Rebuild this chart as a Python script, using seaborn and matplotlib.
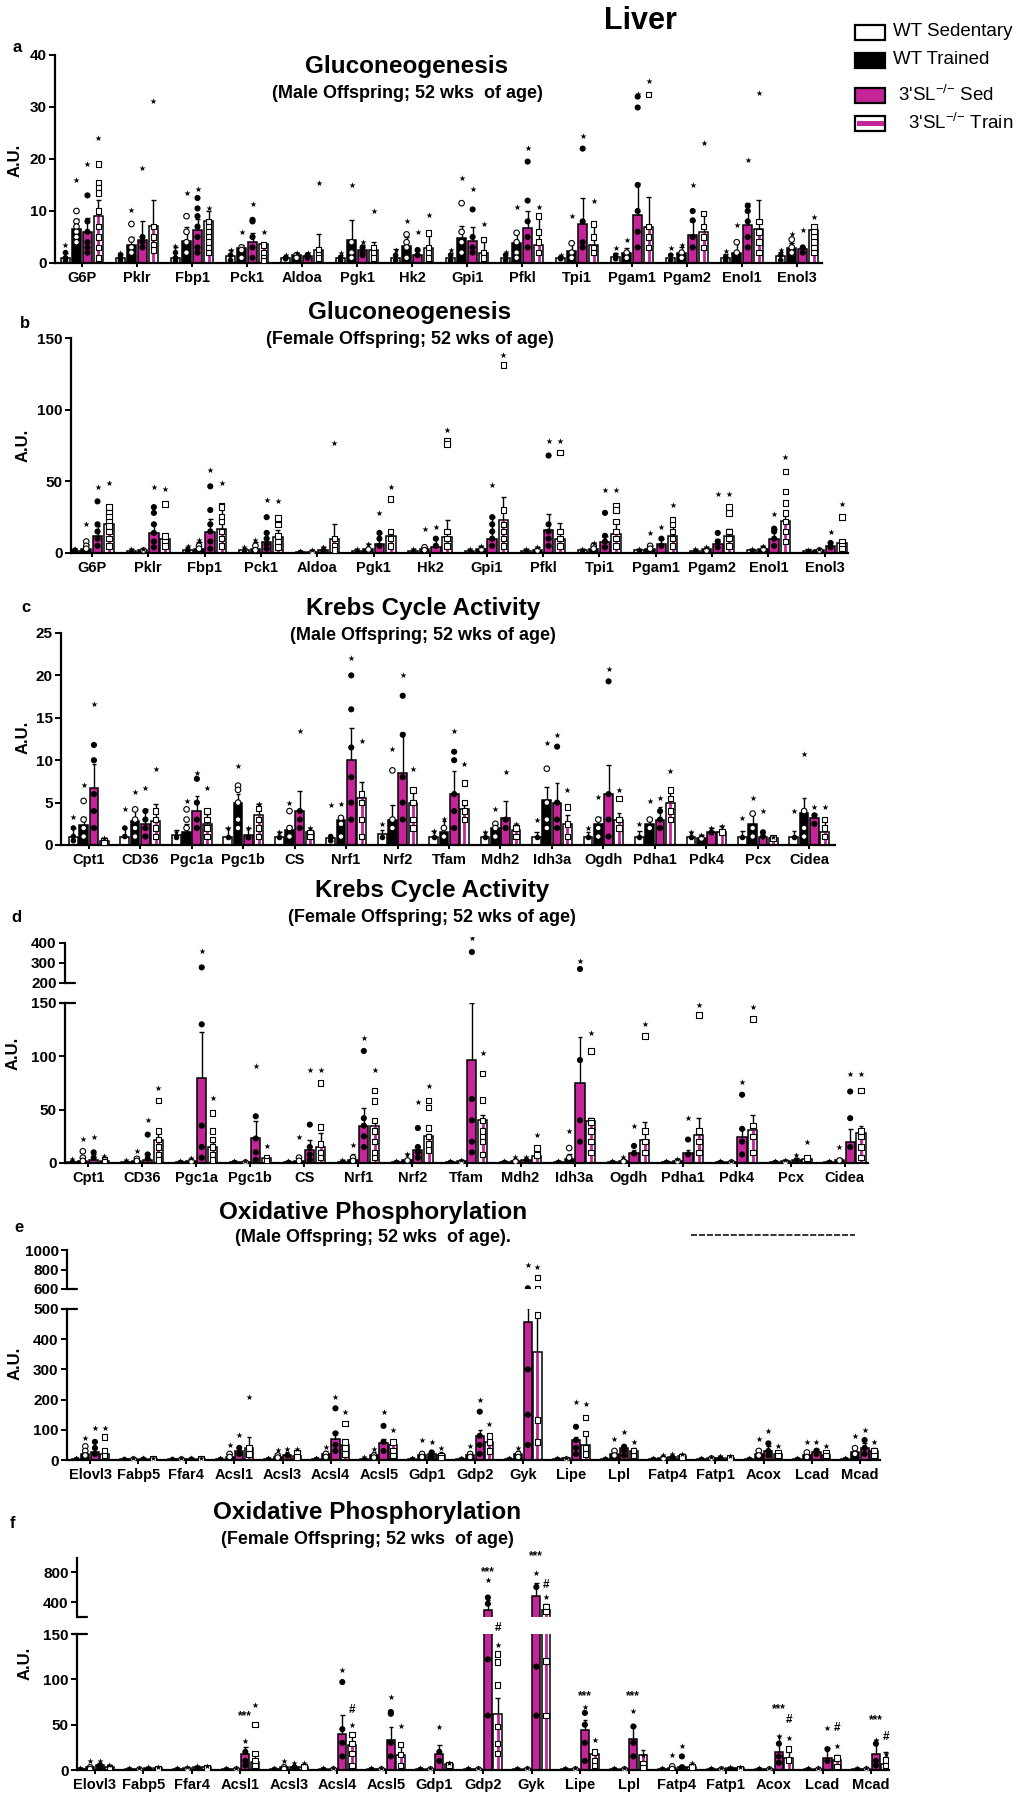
import numpy as np
import pandas as pd
import matplotlib
matplotlib.use("Agg")
import matplotlib.pyplot as plt
import matplotlib.transforms as mtransforms
from matplotlib.patches import Rectangle
from matplotlib.lines import Line2D
import seaborn as sns

# ---------------------------------------------------------------- data
GROUPS = ["WT Sedentary", "WT Trained", "3'SL Sed", "3'SL Train"]

# ---- panel a : Gluconeogenesis, male
a_genes = ["G6P", "Pklr", "Fbp1", "Pck1", "Aldoa", "Pgk1", "Hk2", "Gpi1", "Pfkl", "Tpi1",
           "Pgam1", "Pgam2", "Enol1", "Enol3"]
a_wts_mean = [1.0, 1.0, 1.0, 1.3, 1.0, 1.0, 1.0, 1.0, 1.0, 1.0, 1.2, 1.0, 1.0, 1.3]
a_wts_err = [2.0, 1.8, 3.0, 2.5, 1.3, 1.5, 2.7, 2.0, 2.0, 1.3, 2.0, 1.8, 1.8, 2.2]
a_wts_pts = [[3.5, 2, 1, 0.5], [2, 1.5, 1, 0.5], [3.3, 2, 1, 0.5], [2.5, 1.5, 0.5], [1.5, 1, 0.8],
             [2, 1, 0.5], [2.5, 1.5, 0.5], [2.5, 1.5, 0.5], [2.2, 1.5, 0.5], [1.5, 1, 0.8],
             [2.8, 1.5, 0.8], [2.8, 1.5, 0.5], [2.4, 1.2, 0.5], [2.5, 1.5, 0.5]]
a_wtt_mean = [6.5, 3.5, 4.3, 2.8, 1.5, 4.5, 3.2, 4.8, 3.8, 2.3, 2.0, 2.0, 2.0, 2.8]
a_wtt_err = [8.5, 5.0, 7.0, 3.5, 2.0, 8.3, 5.0, 7.2, 6.0, 4.0, 2.8, 3.0, 4.2, 3.8]
a_wtt_pts = [[16, 10, 8, 7, 6, 5, 4], [10.2, 7.5, 4.5, 3, 2], [13.5, 9, 6, 4, 2], [6, 3, 2.5, 1],
             [2, 1.5, 1], [15, 4, 2, 1], [8, 5.5, 4, 3, 1], [16.3, 11.5, 6, 4, 2],
             [10.7, 5.8, 4, 2, 1], [9, 3.8, 2, 1], [4.4, 2, 1], [3.4, 2, 1], [7.4, 4, 2],
             [5.5, 4.5, 3, 2]]
a_kos_mean = [6.0, 4.5, 6.3, 4.0, 1.3, 2.5, 1.5, 4.3, 6.7, 7.5, 9.2, 5.3, 7.4, 2.6]
a_kos_err = [8.7, 8.0, 8.5, 5.8, 2.0, 3.5, 2.5, 7.0, 10.0, 12.5, 15.3, 8.0, 11.5, 3.0]
a_kos_pts = [[19, 13, 8, 6, 4, 3, 2], [18.2, 5, 4, 3], [14.3, 12.5, 10.5, 9, 7, 5, 3, 2],
             [11.3, 8.3, 8, 5, 3, 1], [2, 1.5, 1], [4, 3, 2, 1.5], [6, 2.5, 1.5],
             [14.3, 10.3, 5, 3, 2], [22.2, 19.5, 12, 8, 5, 3], [24.5, 22, 8, 4, 3],
             [32.5, 32, 29.9, 15, 10, 6, 3], [15, 10, 8.2, 5, 3], [19.9, 11, 10, 8, 5, 3],
             [6.3, 3, 2]]
a_kot_mean = [9.0, 7.2, 8.0, 3.7, 2.5, 2.5, 2.8, 2.0, 3.5, 3.5, 7.0, 6.0, 6.6, 6.4]
a_kot_err = [12.2, 12.2, 10.0, 3.7, 5.5, 4.0, 5.5, 4.0, 8.8, 7.5, 12.7, 9.7, 12.2, 6.5]
a_kot_pts = [[24, 19, 15.5, 14.5, 13.5, 10, 7, 5, 3, 1], [31.2, 7, 5, 3.5, 2.5],
             [10.5, 8, 7, 6, 5, 4, 3, 2], [6, 3.5, 2, 1, 0.5], [15.4, 2.5, 1.5, 1],
             [10, 3, 2, 1], [9.2, 5.8, 3, 2, 1], [7.5, 4.5, 2, 1], [10.7, 9, 6, 4, 2],
             [12, 7.5, 5, 3, 2], [35, 32.4, 7, 5, 3], [23, 9.5, 7, 5, 3], [32.7, 8, 6, 4, 2],
             [8.8, 7, 6, 5, 4, 3, 2]]

# ---- panel b : Gluconeogenesis, female
b_genes = a_genes
b_wts_mean = [1.5, 1.5, 2, 2, 1, 1.5, 1.5, 1.5, 1.5, 2, 2, 1.5, 2, 1.5]
b_wts_err = [3, 2.5, 4, 3.5, 1.5, 2.5, 2.5, 2.5, 2.5, 3, 3, 2.5, 3, 2.5]
b_wts_pts = [[3, 2, 1], [3, 1], [5, 2, 1], [4, 1], [1.5, 1], [3, 1], [3, 1], [3, 1], [3, 1],
             [3, 1], [3, 1], [3, 1], [3, 1], [2, 1]]
b_wtt_mean = [3, 2, 3, 3, 1, 3, 3, 3, 2, 3, 3, 3, 3, 2]
b_wtt_err = [6, 3, 8, 8, 2, 6, 4, 5, 4, 7, 5, 4, 5, 3]
b_wtt_pts = [[20, 8, 5, 3], [3, 2], [9, 5, 3], [9, 5, 2], [2, 1], [6, 3], [17, 4, 2], [5, 3],
             [4, 2], [7, 5, 3], [14, 5, 3], [4, 2], [5, 3], [3, 2]]
b_kos_mean = [12, 14, 15, 8, 2, 6, 4, 10, 16, 8, 6, 6, 10, 5]
b_kos_err = [19, 20, 24, 15, 4, 14, 10, 25, 27, 12, 10, 10, 17, 8]
b_kos_pts = [[46, 36, 20, 15, 10, 5], [46, 32, 28, 20, 14, 8, 4], [58, 46.5, 30, 20, 15, 8, 3],
             [37, 25, 14, 10, 6, 3], [4, 2], [28, 14, 10, 5], [18, 10, 5],
             [47.7, 25, 20, 15, 10, 5], [78, 68, 20, 15, 10, 5], [44, 28, 12, 8, 4],
             [18, 10, 5], [41, 14, 8, 4], [27, 17, 15, 10, 5], [14.6, 7, 4]]
b_kot_mean = [20, 10, 17, 11, 10, 12, 11, 23, 10, 13, 12, 12, 22, 7]
b_kot_err = [30, 13, 32, 16, 20, 15, 23, 39, 21, 22, 23, 17, 29, 9]
b_kot_pts = [[49, 32, 28, 25, 22, 19, 15, 10, 5], [45, 34, 12, 8, 5],
             [49, 33, 32, 25, 22, 15, 10, 5], [36, 24.4, 20, 12, 8, 4], [76.7, 10, 5, 2],
             [46, 37.7, 15, 10, 5], [86, 78, 76, 15, 10, 5], [138, 131, 30, 20, 15, 10, 5],
             [78, 70, 15, 10, 5], [44, 33, 30, 22, 15, 10, 5], [33.7, 23, 20, 15, 10, 5],
             [41, 32, 28, 15, 10, 5], [67, 57, 43, 35, 28, 22, 15, 8], [34, 25, 8, 5, 3]]

# ---- panel c : Krebs cycle, male
c_genes = ["Cpt1", "CD36", "Pgc1a", "Pgc1b", "CS", "Nrf1", "Nrf2", "Tfam", "Mdh2", "Idh3a",
           "Ogdh", "Pdha1", "Pdk4", "Pcx", "Cidea"]
c_wts_mean = [1, 1, 1.2, 1, 1, 0.8, 1.3, 1, 1, 1, 1, 1, 1, 1, 1]
c_wts_err = [2, 2, 1.8, 2, 1.5, 1, 1.8, 1.7, 1.5, 1.5, 1.5, 1.6, 1.5, 1.7, 1.6]
c_wts_pts = [[3.3, 2, 1, 0.5], [4.2, 2, 1], [1.5, 1], [2, 1], [1.5, 1], [4.7, 1, 0.5], [2.5, 1],
             [1.7, 1], [1.5, 1], [2.9, 1], [2, 1], [2.5, 1], [1.5, 1], [3.2, 1], [4, 1]]
c_wtt_mean = [2.3, 2.8, 1.5, 5, 1.8, 3, 3, 1.5, 2, 5.3, 2.5, 2.5, 0.8, 2.5, 3.8]
c_wtt_err = [3.3, 4.2, 2.5, 6, 2.2, 3.3, 4.7, 2.8, 2.5, 6.8, 3.3, 3.2, 1.2, 3.7, 5.6]
c_wtt_pts = [[7.1, 5.2, 3, 2, 1], [6.2, 4.2, 3, 2, 1], [5.2, 4.2, 3, 2], [9.3, 7, 6.5, 5, 3, 2],
             [5, 4, 2, 1], [4.8, 3.2, 2.5, 1], [11.3, 8.8, 3, 2], [3.1, 2, 1], [4.3, 2.5, 2, 1],
             [12, 9, 5, 3, 2], [5.7, 3, 2, 1], [5.2, 3, 2], [1.2, 0.8], [5.6, 3.7, 2, 1],
             [10.7, 4, 2, 1]]
c_kos_mean = [6.7, 2.5, 4, 1.2, 4, 10, 8.5, 6, 3.2, 5, 6, 3, 1.5, 1, 3.2]
c_kos_err = [9.5, 4.2, 5.8, 2, 6.4, 13.8, 13.2, 8.7, 5.2, 7.3, 9.4, 4.5, 2, 1.6, 3.6]
c_kos_pts = [[16.6, 11.8, 10, 6, 4, 2], [6.7, 4, 3, 2, 1], [8.5, 7.8, 5, 3, 2], [2, 1],
             [13.5, 4, 3, 2], [22, 20, 16, 11.5, 8, 5, 3], [20, 17.6, 13, 8, 5, 3],
             [13.5, 11, 10, 6, 4, 2], [8.6, 3, 2], [13, 11.6, 5, 3, 2], [20.8, 19.3, 6, 3, 1],
             [5.5, 4, 3, 2], [2, 1.5], [4, 1.5, 1], [4.5, 3.5, 2.5]]
c_kot_mean = [0.5, 2.8, 2.5, 3.5, 1.5, 5.5, 5, 4.2, 1.8, 2.5, 3, 5, 1.5, 0.8, 1.5]
c_kot_err = [0.8, 4.8, 3.6, 4.8, 2, 7.4, 6.5, 4.7, 2.5, 3.5, 3.8, 6.5, 2.2, 1, 2.8]
c_kot_pts = [[0.8, 0.5, 0.3], [9, 4, 3, 2, 1], [6.7, 4, 3, 2, 1], [4.8, 4.3, 3, 2, 1],
             [2, 1.5, 1], [12.3, 6, 5, 3, 1], [9, 6.5, 5, 3, 2], [9.5, 7.3, 5, 4, 3],
             [2.5, 2, 1], [6.5, 4.5, 2.5, 1], [6.5, 5.5, 3, 2], [8.7, 6.5, 5.5, 4, 3],
             [2.2, 1.5], [1, 0.8], [4.5, 3, 2, 1]]

# ---- panel d : Krebs cycle, female
d_genes = c_genes
d_wts_mean = [1, 1, 1, 1, 1, 1, 1, 1, 1, 1, 1, 1, 1, 1, 1]
d_wts_err = [3, 2, 2, 1.5, 2, 3, 2, 2, 2, 2, 2, 2, 2, 2, 2]
d_wts_pts = [[4, 1], [3, 1], [2, 1], [1.5, 1], [2, 1], [3, 1], [2, 1], [2, 1], [2, 1], [2, 1],
             [2, 1], [2, 1], [2, 1], [2, 1], [2, 1]]
d_wtt_mean = [2, 2, 2, 1, 2, 3, 3, 1.5, 2, 4, 2, 2, 1, 1.5, 3]
d_wtt_err = [5, 6, 4, 2, 3, 8, 8, 3, 4, 8, 4, 4, 2, 3, 5]
d_wtt_pts = [[22.5, 11, 5, 2], [11, 4, 2], [5, 2], [2, 1], [24, 5, 2], [16.6, 5, 2], [8, 3],
             [3, 1], [6, 2], [30, 14, 5], [6, 2], [4, 2], [2, 1], [3, 1], [15, 3]]
d_kos_mean = [3, 3, 80, 23, 12, 35, 12, 97, 3, 75, 9, 9, 24, 3, 20]
d_kos_err = [8, 8, 123, 39, 22, 51.6, 15, 150, 5, 118, 12, 12, 32, 5, 32]
d_kos_pts = [[24.4, 10, 5], [40.6, 26.6, 8, 4], [358, 278, 130, 35, 15, 5],
             [90.6, 43.8, 23, 10, 3], [87, 36, 15, 8, 3], [117, 105, 42, 35, 25, 15],
             [57, 32.8, 15, 10, 5], [425, 355, 60, 40, 20, 10], [6, 3],
             [310, 270, 96.5, 40, 20], [35, 16, 9], [42, 22, 8], [76, 64, 32, 20, 8], [7.5, 3],
             [83, 67, 42, 15]]
d_kot_mean = [2, 22, 15, 5, 15, 35, 25, 40, 7, 39, 21.5, 26, 31, 4, 28]
d_kot_err = [5, 29.7, 20, 5, 28, 38, 27, 45, 10, 42, 38, 42, 45, 5, 35]
d_kot_pts = [[7, 3, 1], [70, 58.8, 30, 22, 15, 8, 3], [61, 47, 30, 22, 15, 8, 3], [15.6, 5, 2],
             [87, 75, 34, 18, 10, 5], [87, 68, 58, 40, 30, 20, 10, 5],
             [72, 58.7, 52, 33, 25, 18, 12], [103, 84, 59, 40, 30, 25, 20, 8], [26, 14, 7.5],
             [122, 105, 40, 38, 30, 20, 10], [130, 119, 30, 20, 10], [148, 139, 30, 20, 10],
             [146, 135, 35, 25, 10], [20, 5], [83, 68, 30, 25, 15, 5]]

# ---- panel e : Oxidative phosphorylation, male
e_genes = ["Elovl3", "Fabp5", "Ffar4", "Acsl1", "Acsl3", "Acsl4", "Acsl5", "Gdp1", "Gdp2", "Gyk",
           "Lipe", "Lpl", "Fatp4", "Fatp1", "Acox", "Lcad", "Mcad"]
e_wts_mean = [2, 2, 2, 2, 2, 3, 3, 2, 2, 3, 3, 3, 2, 2, 3, 3, 3]
e_wts_err = [4, 3, 3, 4, 4, 5, 5, 4, 4, 5, 5, 5, 4, 4, 5, 5, 5]
e_wts_pts = [[5, 2], [4, 2], [4, 2], [5, 2], [5, 2], [8, 3], [10, 3], [6, 2], [5, 2], [6, 3],
             [6, 3], [6, 3], [5, 2], [5, 2], [6, 3], [6, 3], [6, 3]]
e_wtt_mean = [20, 3, 3, 10, 10, 20, 15, 15, 15, 20, 5, 20, 8, 5, 20, 15, 25]
e_wtt_err = [30, 5, 5, 20, 20, 30, 25, 25, 25, 30, 8, 30, 12, 8, 30, 25, 35]
e_wtt_pts = [[72, 45, 30, 15], [6, 3], [6, 3], [50, 20, 10], [33, 15, 8], [44, 20, 10],
             [35, 15, 8], [66, 20, 10], [45, 20, 10], [39, 20, 10], [8, 4], [68, 30, 15],
             [15, 8], [10, 5], [68, 30, 15], [61, 25, 10], [79, 39, 20]]
e_kos_mean = [25, 3, 3, 30, 15, 70, 55, 20, 80, 458, 66, 40, 10, 8, 30, 25, 40]
e_kos_err = [35, 5, 5, 45, 25, 94, 70, 30, 100, 502, 77, 50, 15, 12, 45, 35, 55]
e_kos_pts = [[105, 60, 40, 20], [6, 3], [6, 3], [83, 40, 20], [38, 15],
             [210, 171, 88, 50, 30], [158, 113, 60, 30], [61, 25, 10], [199, 160, 80, 50, 20],
             [846, 607, 300, 150, 50], [193, 110, 66, 40, 20], [94, 44, 30, 15], [20, 10],
             [12, 6], [96, 55, 30, 15], [61, 31, 20], [99, 66, 40, 20]]
e_kot_mean = [20, 3, 3, 40, 12, 50, 50, 15, 60, 359, 50, 30, 12, 8, 20, 15, 30]
e_kot_err = [25, 5, 5, 77, 20, 60, 60, 25, 80, 480, 88, 40, 18, 12, 30, 25, 40]
e_kot_pts = [[105, 77, 30, 15], [6, 3], [6, 3], [210, 40, 20], [38, 25, 10],
             [158, 121, 60, 40, 20], [99, 60, 30, 15], [40, 15, 8], [119, 80, 60, 30],
             [829, 720, 607, 480, 132, 60], [185, 140, 88, 40, 20], [61, 30, 15], [20, 10],
             [12, 6], [46, 25, 15], [45, 25, 15], [61, 30, 15]]

# ---- panel f : Oxidative phosphorylation, female
f_genes = e_genes
f_wts_mean = [1, 1, 1, 1, 1, 1, 1, 1, 1, 1, 1, 1, 1, 1, 1, 1, 1]
f_wts_err = [2, 1.5, 1.5, 1.5, 1.5, 1.5, 1.5, 1.5, 1.5, 1.5, 1.5, 1.5, 1.5, 1.5, 1.5, 1.5, 1.5]
f_wts_pts = [[2, 1], [2, 1], [2, 1], [2, 1], [2, 1], [2, 1], [2, 1], [2, 1], [2, 1], [2, 1],
             [2, 1], [2, 1], [2, 1], [2, 1], [2, 1], [2, 1], [2, 1]]
f_wtt_mean = [3, 1.5, 2, 1.5, 3, 1.5, 1.5, 1.5, 1.5, 1.5, 1.5, 1.5, 2, 1.5, 1.5, 1.5, 1.5]
f_wtt_err = [5, 2.5, 3, 2.5, 5, 2.5, 2.5, 2.5, 2.5, 2.5, 2.5, 2.5, 4, 2.5, 2.5, 2.5, 2.5]
f_wtt_pts = [[10, 3, 1], [2, 1], [3, 1], [2, 1], [10, 3, 1], [2, 1], [2, 1], [2, 1], [2, 1],
             [2, 1], [2, 1], [2, 1], [16, 4, 1], [2, 1], [2, 1], [2, 1], [2, 1]]
f_kos_mean = [5, 2, 3, 18, 3, 40, 33, 18, 300, 480, 44, 34, 3, 2, 20, 13, 18]
f_kos_err = [8, 3, 4, 25, 5, 61, 47, 28, 430, 650, 55, 48, 6, 3, 37, 24, 33]
f_kos_pts = [[10, 5, 2], [3, 1], [4, 2], [32, 20, 10, 5], [8, 3], [110, 97, 45, 30, 15],
             [80, 64, 62, 30, 15], [47, 20, 10], [696, 460, 377, 122, 60], [791, 600, 114, 60],
             [70, 63, 50, 30, 10], [65, 48, 30, 15], [26, 15, 3], [3, 1], [37, 29, 15, 8],
             [46, 23, 10], [33, 29, 10, 5]]
f_kot_mean = [3, 2, 3, 9, 3, 28, 17, 7, 62, 300, 18, 17, 3, 2, 13, 11, 7]
f_kot_err = [5, 3, 4, 18, 5, 40, 28, 9, 79, 380, 22, 22, 6, 3, 23, 16, 20]
f_kot_pts = [[5, 3, 1], [3, 1], [4, 2], [72, 50, 18, 10, 5], [8, 3], [50, 39, 29, 18, 5],
             [48, 28, 17, 5], [8, 5], [138, 128, 119, 94, 48, 29, 18], [462, 338, 271, 120, 60],
             [33, 20, 10, 5], [16, 7, 3], [8, 3], [3, 1], [35, 23, 11], [26, 13, 4],
             [18, 11, 5]]
f_sig_gene = ["Acsl1", "Gdp2", "Gyk", "Lipe", "Lpl", "Acox", "Mcad",
              "Acsl4", "Gdp2", "Gyk", "Acox", "Lcad", "Mcad"]
f_sig_group = [2, 2, 2, 2, 2, 2, 2, 3, 3, 3, 3, 3, 3]
f_sig_text = ["***", "***", "***", "***", "***", "***", "***", "#", "#", "#", "#", "#", "#"]
f_sig_y = [59, 800, 1013, 81, 81, 67, 55, 66, 157, 627, 55, 46, 36]

# ---------------------------------------------------------------- style
sns.set_theme(style="ticks")
plt.rcParams["font.family"] = ["Liberation Sans", "DejaVu Sans"]
plt.rcParams["font.weight"] = "bold"
plt.rcParams["axes.labelweight"] = "bold"
plt.rcParams["mathtext.default"] = "regular"
plt.rcParams["axes.edgecolor"] = "black"
plt.rcParams["xtick.color"] = "black"
plt.rcParams["ytick.color"] = "black"
plt.rcParams["text.color"] = "black"

W, H = 1035, 1800
fig = plt.figure(figsize=(W / 100, H / 100), dpi=100)
fig.patch.set_facecolor("white")

MAG = "#c42599"
BAR_FACE = {GROUPS[0]: "white", GROUPS[1]: "black", GROUPS[2]: MAG, GROUPS[3]: "white"}
PT_FACE = {GROUPS[0]: "black", GROUPS[1]: "white", GROUPS[2]: "black", GROUPS[3]: "white"}
PT_MARK = {GROUPS[0]: "o", GROUPS[1]: "o", GROUPS[2]: "o", GROUPS[3]: "s"}
PT_SIZE = {GROUPS[0]: 3.2, GROUPS[1]: 4.0, GROUPS[2]: 3.6, GROUPS[3]: 4.0}
TOP_FACE = {g: "black" for g in GROUPS}
OFFS = [-0.3, -0.1, 0.1, 0.3]


def px_axes(left, top, right, bottom):
    return fig.add_axes([left / W, 1 - bottom / H, (right - left) / W, (bottom - top) / H])


def frames(genes, means, errs, pts):
    rows, prow = [], []
    for g, m, e, p in zip(GROUPS, means, errs, pts):
        for gene, mv, ev, pv in zip(genes, m, e, p):
            rows.append(dict(gene=gene, group=g, mean=mv, err=ev))
            for k, v in enumerate(pv):
                prow.append(dict(gene=gene, group=g, value=v, top=(k == 0)))
    return pd.DataFrame(rows), pd.DataFrame(prow)


def draw(ax, genes, dfm, dfp, xlim, ylim):
    sns.barplot(data=dfm, x="gene", y="mean", hue="group", order=genes, hue_order=GROUPS,
                palette=BAR_FACE, width=0.8, gap=0.15, errorbar=None, saturation=1,
                edgecolor="black", linewidth=1.1, legend=False, ax=ax, zorder=2)
    look = dfm.set_index(["gene", "group"])["err"]
    for patch in list(ax.patches):
        xc = patch.get_x() + patch.get_width() / 2
        gi = int(round(xc))
        hi = int(round((xc - gi + 0.3) / 0.2))
        grp = GROUPS[hi]
        h = patch.get_height()
        top = look.loc[(genes[gi], grp)]
        if grp == GROUPS[3]:
            ax.vlines(xc, 0, h, color=MAG, lw=2.0, zorder=2.3)
        if top > h:
            ax.vlines(xc, h, top, color="black", lw=1.0, zorder=2.4)
            ax.hlines(top, xc - 0.045, xc + 0.045, color="black", lw=1.0, zorder=2.4)
    for g in GROUPS:
        sub = dfp[(dfp.group == g) & (~dfp.top)]
        if len(sub):
            sns.stripplot(data=sub, x="gene", y="value", hue="group", order=genes,
                          hue_order=GROUPS, dodge=True, jitter=False, palette=PT_FACE,
                          marker=PT_MARK[g], size=PT_SIZE[g], edgecolor="black",
                          linewidth=0.8, legend=False, ax=ax, zorder=3)
    sub = dfp[dfp.top]
    sns.stripplot(data=sub, x="gene", y="value", hue="group", order=genes, hue_order=GROUPS,
                  dodge=True, jitter=False, palette=TOP_FACE, marker="*", size=4.6,
                  linewidth=0, legend=False, ax=ax, zorder=3)
    ax.set_xlim(*xlim)
    ax.set_ylim(*ylim)
    ax.set_xlabel("")
    ax.set_ylabel("")
    for s in ("top", "right"):
        ax.spines[s].set_visible(False)
    for s in ("left", "bottom"):
        ax.spines[s].set_linewidth(1.6)
        ax.spines[s].set_color("black")
    ax.tick_params(axis="both", direction="out", width=1.4, color="black")
    ax.tick_params(axis="x", length=3, labelsize=10.5, pad=3)
    ax.tick_params(axis="y", length=4, labelsize=11, pad=2)
    ax.patch.set_alpha(0)


def panel(genes, means, errs, pts, box, xlim, ylim, yticks, upper=None):
    dfm, dfp = frames(genes, means, errs, pts)
    ax = px_axes(*box)
    draw(ax, genes, dfm, dfp, xlim, ylim)
    ax.set_yticks(yticks)
    ax.set_yticklabels([str(t) for t in yticks])
    for lab in ax.get_xticklabels() + ax.get_yticklabels():
        lab.set_fontweight("bold")
    up = None
    if upper is not None:
        ubox, uylim, uticks, ubound = upper
        up = px_axes(*ubox)
        draw(up, genes, dfm, dfp, xlim, uylim)
        up.spines["bottom"].set_visible(False)
        up.tick_params(axis="x", bottom=False, labelbottom=False)
        up.spines["left"].set_bounds(uylim[0], ubound)
        up.set_yticks(uticks)
        up.set_yticklabels([str(t) for t in uticks])
        for lab in up.get_yticklabels():
            lab.set_fontweight("bold")
        ax.spines["left"].set_bounds(0, ylim[1])
        tr_l = mtransforms.blended_transform_factory(ax.transAxes, ax.transData)
        ax.plot([-0.006, 0.012], [ylim[1], ylim[1]], color="black", lw=1.6,
                transform=tr_l, clip_on=False)
        tr_u = mtransforms.blended_transform_factory(up.transAxes, up.transData)
        up.plot([0, 0.012], [uylim[0], uylim[0]], color="black", lw=1.6,
                transform=tr_u, clip_on=False)
    return ax, up


def ftxt(x, y, s, **kw):
    fig.text(x / W, 1 - y / H, s, **kw)


# ---------------------------------------------------------------- panels
panel(a_genes, [a_wts_mean, a_wtt_mean, a_kos_mean, a_kot_mean],
      [a_wts_err, a_wtt_err, a_kos_err, a_kot_err],
      [a_wts_pts, a_wtt_pts, a_kos_pts, a_kot_pts],
      (55, 55, 822, 263), (-0.49, 13.45), (0, 40), [0, 10, 20, 30, 40])

panel(b_genes, [b_wts_mean, b_wtt_mean, b_kos_mean, b_kot_mean],
      [b_wts_err, b_wtt_err, b_kos_err, b_kot_err],
      [b_wts_pts, b_wtt_pts, b_kos_pts, b_kot_pts],
      (71, 338, 848, 553), (-0.37, 13.41), (0, 150), [0, 50, 100, 150])

panel(c_genes, [c_wts_mean, c_wtt_mean, c_kos_mean, c_kot_mean],
      [c_wts_err, c_wtt_err, c_kos_err, c_kot_err],
      [c_wts_pts, c_wtt_pts, c_kos_pts, c_kot_pts],
      (61, 633, 835, 845), (-0.54, 14.5), (0, 25), [0, 5, 10, 15, 20, 25])

panel(d_genes, [d_wts_mean, d_wtt_mean, d_kos_mean, d_kot_mean],
      [d_wts_err, d_wtt_err, d_kos_err, d_kot_err],
      [d_wts_pts, d_wtt_pts, d_kos_pts, d_kot_pts],
      (65, 1003, 868, 1163), (-0.43, 14.43), (0, 150), [0, 50, 100, 150],
      upper=((65, 937, 868, 983), (200, 430), [200, 300, 400], 400))

panel(e_genes, [e_wts_mean, e_wtt_mean, e_kos_mean, e_kot_mean],
      [e_wts_err, e_wtt_err, e_kos_err, e_kot_err],
      [e_wts_pts, e_wtt_pts, e_kos_pts, e_kot_pts],
      (67, 1309, 880, 1460), (-0.48, 16.42), (0, 500), [0, 100, 200, 300, 400, 500],
      upper=((67, 1250, 880, 1289), (600, 1000), [600, 800, 1000], 1000))

axf, upf = panel(f_genes, [f_wts_mean, f_wtt_mean, f_kos_mean, f_kot_mean],
                 [f_wts_err, f_wtt_err, f_kos_err, f_kot_err],
                 [f_wts_pts, f_wtt_pts, f_kos_pts, f_kot_pts],
                 (77, 1634, 889, 1770), (-0.37, 16.37), (0, 150), [0, 50, 100, 150],
                 upper=((77, 1557, 889, 1617), (200, 1000), [400, 800], 990))

for gname, gi, txt, yv in zip(f_sig_gene, f_sig_group, f_sig_text, f_sig_y):
    xpos = f_genes.index(gname) + OFFS[gi]
    target = upf if yv > 200 else axf
    target.text(xpos, yv, txt, ha="center", va="center", fontsize=8.5, fontweight="bold",
                clip_on=False, zorder=5)

# ---------------------------------------------------------------- texts
ftxt(640, 21, "Liver", ha="center", va="center", fontsize=22, fontweight="bold")

titles = [("Gluconeogenesis", "(Male Offspring; 52 wks  of age)", 407, 67, 93),
          ("Gluconeogenesis", "(Female Offspring; 52 wks of age)", 410, 312, 340),
          ("Krebs Cycle Activity", "(Male Offspring; 52 wks of age)", 423, 608, 635),
          ("Krebs Cycle Activity", "(Female Offspring; 52 wks of age)", 432, 890, 917),
          ("Oxidative Phosphorylation", "(Male Offspring; 52 wks  of age).", 373, 1212, 1238),
          ("Oxidative Phosphorylation", "(Female Offspring; 52 wks  of age)", 367, 1512, 1540)]
for t, s, xc, yt, ys in titles:
    ftxt(xc, yt, t, ha="center", va="center", fontsize=17.5, fontweight="bold")
    ftxt(xc, ys, s, ha="center", va="center", fontsize=13, fontweight="bold")

for lab, x, y in [("a", 17, 47), ("b", 25, 323), ("c", 26, 608), ("d", 16, 918),
                  ("e", 19, 1228), ("f", 13, 1523)]:
    ftxt(x, y, lab, ha="center", va="center", fontsize=12, fontweight="bold")

for x, y in [(15, 160), (23, 445), (23, 737), (13, 1053), (15, 1363), (25, 1663)]:
    ftxt(x, y, "A.U.", ha="center", va="center", rotation=90, fontsize=12, fontweight="bold")

fig.add_artist(Line2D([691 / W, 855 / W], [1 - 1235 / H, 1 - 1235 / H], color="black",
                      lw=1.1, ls=(0, (4, 1.2))))

# ---------------------------------------------------------------- legend
leg_rows = [(32, "WT Sedentary", 893), (60, "WT Trained", 893),
            (95, "3'SL$^{{-}/{-}}$ Sed", 898), (123, "3'SL$^{{-}/{-}}$ Train", 908)]
for i, (yc, txt, tx) in enumerate(leg_rows):
    x0, bw, bh = 855, 30, 15
    face = BAR_FACE[GROUPS[i]]
    fig.add_artist(Rectangle((x0 / W, 1 - (yc + bh / 2) / H), bw / W, bh / H,
                             facecolor=face, edgecolor="black", lw=1.6,
                             transform=fig.transFigure))
    if i == 3:
        fig.add_artist(Rectangle(((x0 + 1.5) / W, 1 - (yc + 2.5) / H), (bw - 3) / W, 5 / H,
                                 facecolor=MAG, edgecolor="none",
                                 transform=fig.transFigure))
    ftxt(tx, yc, txt, ha="left", va="center", fontsize=13.5, fontweight="normal")

fig.savefig("out.png", dpi=100, facecolor="white")
